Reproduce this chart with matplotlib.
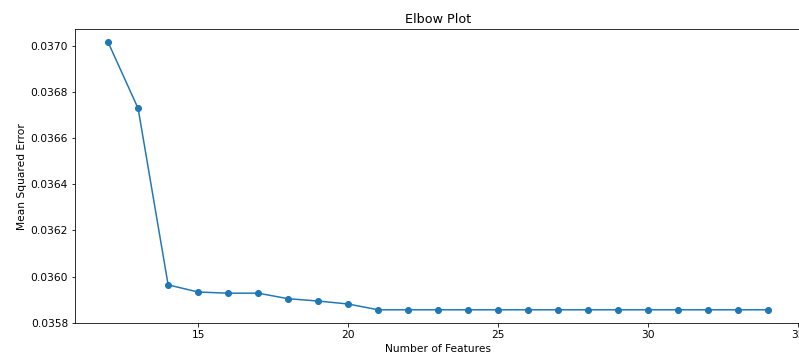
import matplotlib
matplotlib.use("Agg")
import matplotlib.pyplot as plt

num_features = list(range(12, 35))
mse = [0.037015, 0.036728, 0.035964, 0.035933, 0.035928, 0.035928,
       0.035904, 0.035894, 0.035881, 0.035856, 0.035856, 0.035856,
       0.035856, 0.035856, 0.035856, 0.035856, 0.035856, 0.035856,
       0.035856, 0.035856, 0.035856, 0.035856, 0.035856]
x_ticks = [15, 20, 25, 30, 35]
y_ticks = [0.0358, 0.0360, 0.0362, 0.0364, 0.0366, 0.0368, 0.0370]
y_tick_labels = ['0.0358', '0.0360', '0.0362', '0.0364', '0.0366', '0.0368', '0.0370']

plt.rcParams['font.size'] = 10.6
plt.rcParams['axes.titlesize'] = 12.7

dpi = 72
fig = plt.figure(figsize=(799 / dpi, 361 / dpi), dpi=dpi)
W, H = 799, 361
left, right, top, bottom = 75.1, 801.3, 29.3, 323.3
ax = fig.add_axes([left / W, 1 - bottom / H, (right - left) / W, (bottom - top) / H])
ax.plot(num_features, mse, marker='o', color='#1f77b4')
ax.set_title('Elbow Plot')
ax.set_xlabel('Number of Features')
ax.set_ylabel('Mean Squared Error')
ax.set_xticks(x_ticks)
ax.set_yticks(y_ticks)
ax.set_yticklabels(y_tick_labels)
ax.set_xlim(10.9, 35.1)
ax.set_ylim(0.0357975, 0.037071)
fig.savefig('out.png', dpi=dpi, facecolor='white')
